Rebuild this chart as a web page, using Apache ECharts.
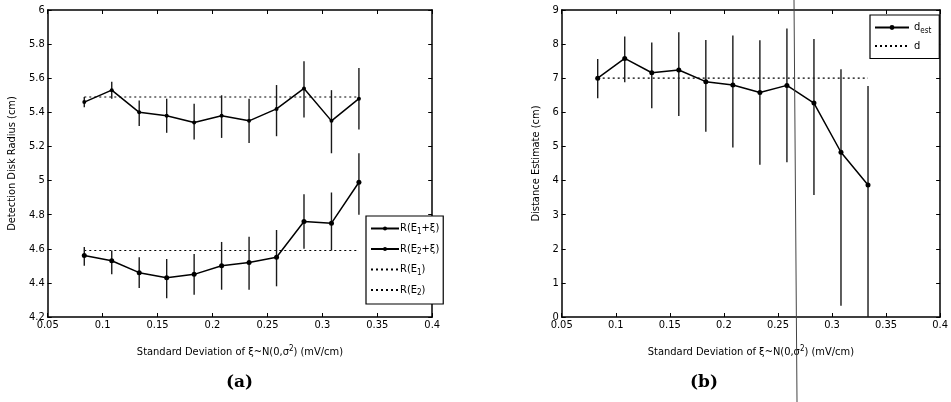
<!DOCTYPE html>
<html>
<head>
<meta charset="utf-8">
<script src="https://cdn.jsdelivr.net/npm/echarts@6/dist/echarts.min.js"></script>
<style>html,body{margin:0;padding:0;background:#fff}#c{width:951px;height:402px}</style>
</head>
<body>
<div id="c"></div>
<script>
// ---- data ----
const xVals = [0.0833, 0.1083, 0.1333, 0.1583, 0.1833, 0.2083, 0.2333, 0.2583, 0.2833, 0.3083, 0.3333];
const xTicks = [0.05, 0.1, 0.15, 0.2, 0.25, 0.3, 0.35, 0.4];
// panel (a)
const rE1Xi = [5.46, 5.53, 5.40, 5.38, 5.34, 5.38, 5.35, 5.42, 5.54, 5.35, 5.48];
const rE1XiLo = [5.43, 5.48, 5.32, 5.28, 5.24, 5.25, 5.22, 5.26, 5.37, 5.16, 5.30];
const rE1XiHi = [5.49, 5.58, 5.47, 5.48, 5.45, 5.50, 5.48, 5.56, 5.70, 5.53, 5.66];
const rE2Xi = [4.56, 4.53, 4.46, 4.43, 4.45, 4.50, 4.52, 4.55, 4.76, 4.75, 4.99];
const rE2XiLo = [4.50, 4.45, 4.37, 4.31, 4.33, 4.36, 4.36, 4.38, 4.60, 4.59, 4.80];
const rE2XiHi = [4.61, 4.59, 4.55, 4.54, 4.57, 4.64, 4.67, 4.71, 4.92, 4.93, 5.16];
const rE1 = [5.49, 5.49, 5.49, 5.49, 5.49, 5.49, 5.49, 5.49, 5.49, 5.49, 5.49];
const rE2 = [4.59, 4.59, 4.59, 4.59, 4.59, 4.59, 4.59, 4.59, 4.59, 4.59, 4.59];
const yTicksA = [4.2, 4.4, 4.6, 4.8, 5, 5.2, 5.4, 5.6, 5.8, 6];
// panel (b)
const dEst = [7.00, 7.58, 7.16, 7.24, 6.90, 6.80, 6.58, 6.79, 6.27, 4.83, 3.87];
const dEstLo = [6.41, 6.88, 6.12, 5.89, 5.43, 4.97, 4.46, 4.54, 3.58, 0.33, 0.00];
const dEstHi = [7.56, 8.22, 8.05, 8.35, 8.12, 8.25, 8.11, 8.46, 8.15, 7.26, 6.77];
const dTrue = [7, 7, 7, 7, 7, 7, 7, 7, 7, 7, 7];
const yTicksB = [0, 1, 2, 3, 4, 5, 6, 7, 8, 9];

// ---- helpers ----
const FONT = "'Liberation Sans Narrow', 'DejaVu Sans Condensed', 'Liberation Sans', sans-serif";
const pairs = (ys) => xVals.map((x, i) => [x, ys[i]]);
const errData = (lo, hi) => xVals.map((x, i) => [x, lo[i], hi[i]]);
function errSeries(idx, lo, hi) {
  return {
    type: 'custom', xAxisIndex: idx, yAxisIndex: idx, silent: true, z: 3,
    data: errData(lo, hi),
    renderItem: function (params, api) {
      const a = api.coord([api.value(0), api.value(1)]);
      const b = api.coord([api.value(0), api.value(2)]);
      return { type: 'line', shape: { x1: a[0], y1: a[1], x2: b[0], y2: b[1] },
               style: { stroke: '#1a1a1a', lineWidth: 1.4 } };
    }
  };
}
const axisLbl = { fontFamily: FONT, fontSize: 11, color: '#000' };
const rich = {
  sub: { fontFamily: FONT, fontSize: 8, verticalAlign: 'bottom', padding: [6, 0, 0, 0], color: '#000' },
  sup: { fontFamily: FONT, fontSize: 8, verticalAlign: 'top', padding: [0, 0, 6, 0], color: '#000' },
  n: { fontFamily: FONT, fontSize: 11, color: '#000' }
};
function xAxes(gi) {
  const xName = '{n|Standard Deviation of ξ~N(0,σ}{sup|2}{n|) (mV/cm)}';
  return [{
    gridIndex: gi, type: 'value', min: xTicks[0], max: xTicks[xTicks.length - 1], interval: 0.05,
    position: 'bottom',
    axisLine: { onZero: false, lineStyle: { color: '#000', width: 1.5 } },
    axisTick: { inside: true, length: 4, lineStyle: { color: '#000' } },
    axisLabel: Object.assign({ margin: 3 }, axisLbl),
    splitLine: { show: false },
    name: xName, nameLocation: 'middle', nameGap: 28,
    nameTextStyle: { fontFamily: FONT, fontSize: 11, color: '#000', rich: rich }
  }, {
    gridIndex: gi, type: 'value', min: xTicks[0], max: xTicks[xTicks.length - 1], interval: 0.05,
    position: 'top',
    axisLine: { onZero: false, lineStyle: { color: '#000', width: 1.5 } },
    axisTick: { inside: true, length: 4, lineStyle: { color: '#000' } },
    axisLabel: { show: false }, splitLine: { show: false }
  }];
}
function yAxes(gi, ticks, interval, name, gap) {
  return [{
    gridIndex: gi, type: 'value', min: ticks[0], max: ticks[ticks.length - 1], interval: interval,
    position: 'left',
    axisLine: { onZero: false, lineStyle: { color: '#000', width: 1.5 } },
    axisTick: { inside: true, length: 4, lineStyle: { color: '#000' } },
    axisLabel: Object.assign({ margin: 3, formatter: v => String(+v.toFixed(2)) }, axisLbl),
    splitLine: { show: false },
    name: name, nameLocation: 'middle', nameGap: gap,
    nameTextStyle: { fontFamily: FONT, fontSize: 11, color: '#000' }
  }, {
    gridIndex: gi, type: 'value', min: ticks[0], max: ticks[ticks.length - 1], interval: interval,
    position: 'right',
    axisLine: { onZero: false, lineStyle: { color: '#000', width: 1.5 } },
    axisTick: { inside: true, length: 4, lineStyle: { color: '#000' } },
    axisLabel: { show: false }, splitLine: { show: false }
  }];
}
const solid = (name, idx, ys, sym) => ({
  name: name, type: 'line', xAxisIndex: idx, yAxisIndex: idx, data: pairs(ys), z: 4,
  symbol: 'circle', symbolSize: sym, showSymbol: true,
  lineStyle: { color: '#000', width: 1.5 }, itemStyle: { color: '#000' }
});
const dotted = (name, idx, ys) => ({
  name: name, type: 'line', xAxisIndex: idx, yAxisIndex: idx, data: pairs(ys), z: 2,
  symbol: 'none', lineStyle: { color: '#000', width: 1.2, type: [2, 3] }, itemStyle: { color: '#000' }
});
const hidden = { opacity: 0 };

const chart = echarts.init(document.getElementById('c'), null, { renderer: 'canvas' });
chart.setOption({
  animation: false,
  backgroundColor: '#fff',
  grid: [
    { left: 47.7, top: 10, width: 384.5, height: 307 },
    { left: 561.7, top: 10, width: 384.5, height: 307 }
  ],
  xAxis: [...xAxes(0), ...xAxes(1)],
  yAxis: [...yAxes(0, yTicksA, 0.2, 'Detection Disk Radius (cm)', 30), ...yAxes(1, yTicksB, 1, 'Distance Estimate (cm)', 20)],
  legend: [{
    orient: 'vertical', left: 366, top: 216, width: 76,
    backgroundColor: '#fff', borderColor: '#000', borderWidth: 1.2, borderRadius: 0,
    padding: [7, 4, 7, 4], itemGap: 8, itemWidth: 28, itemHeight: 5,
    textStyle: { fontFamily: FONT, fontSize: 11, color: '#000', rich: rich, padding: [0, 0, 0, -4] },
    data: [
      { name: 'R(E1+ξ)' },
      { name: 'R(E2+ξ)' },
      { name: 'R(E1)', itemStyle: hidden },
      { name: 'R(E2)', itemStyle: hidden }
    ],
    formatter: function (n) {
      const m = { 'R(E1+ξ)': '{n|R(E}{sub|1}{n|+ξ)}', 'R(E2+ξ)': '{n|R(E}{sub|2}{n|+ξ)}',
                  'R(E1)': '{n|R(E}{sub|1}{n|)}', 'R(E2)': '{n|R(E}{sub|2}{n|)}' };
      return m[n];
    }
  }, {
    orient: 'vertical', left: 870, top: 15, width: 68,
    backgroundColor: '#fff', borderColor: '#000', borderWidth: 1.2, borderRadius: 0,
    padding: [7, 8, 7, 4], itemGap: 6, itemWidth: 34, itemHeight: 6,
    textStyle: { fontFamily: FONT, fontSize: 11, color: '#000', rich: rich },
    data: [{ name: 'dest' }, { name: 'd', itemStyle: hidden }],
    formatter: function (n) { return n === 'dest' ? '{n|d}{sub|est}' : '{n|d}'; }
  }],
  series: [
    errSeries(0, rE1XiLo, rE1XiHi),
    errSeries(0, rE2XiLo, rE2XiHi),
    solid('R(E1+ξ)', 0, rE1Xi, 4),
    solid('R(E2+ξ)', 0, rE2Xi, 5),
    dotted('R(E1)', 0, rE1),
    dotted('R(E2)', 0, rE2),
    errSeries(2, dEstLo, dEstHi),
    solid('dest', 2, dEst, 5),
    dotted('d', 2, dTrue)
  ],
  graphic: [
    { type: 'text', left: 226, top: 374, style: { text: '(a)', font: 'bold 17px "DejaVu Serif", serif', fill: '#000' } },
    { type: 'text', left: 690, top: 374, style: { text: '(b)', font: 'bold 17px "DejaVu Serif", serif', fill: '#000' } },
    { type: 'line', silent: true, z: 100, shape: { x1: 794, y1: 0, x2: 797, y2: 402 }, style: { stroke: '#444', lineWidth: 1 } }
  ]
});
</script>
</body>
</html>
